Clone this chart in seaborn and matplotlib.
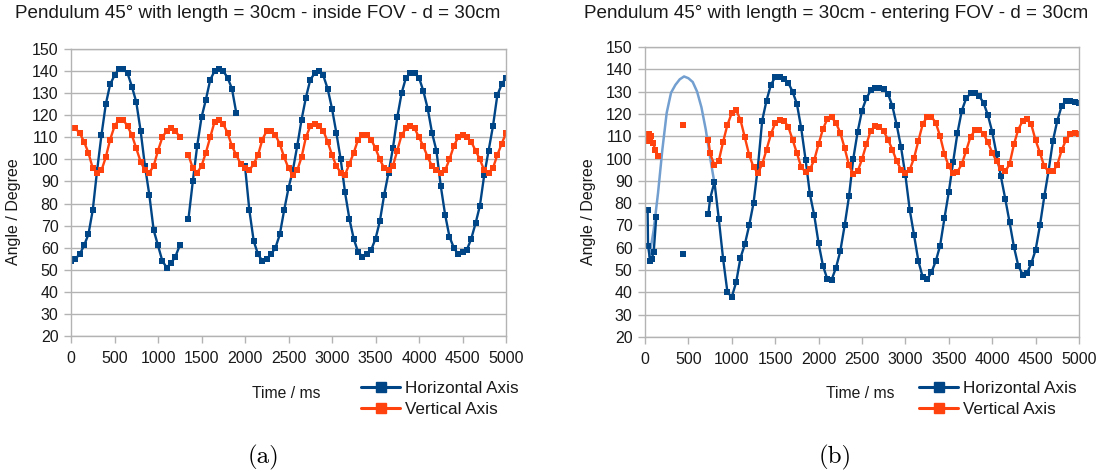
import numpy as np
import pandas as pd
import matplotlib
matplotlib.use("Agg")
import matplotlib.pyplot as plt
from matplotlib.lines import Line2D
import seaborn as sns

# ---- data (angle in degrees, time in ms) ----
t_a = np.arange(0, 5001, 50)
horiz_a = [54, 55, 57, 61, 66, 77, 95, 111, 125, 134,
           138, 141, 141, 139, 133, 126, 113, 97, 84, 68,
           61, 54, 51, 53, 56, 61, np.nan, 73, 90, 106,
           119, 127, 136, 140, 141, 140, 137, 132, 121, np.nan,
           97, 77, 63, 57, 54, 55, 57, 60, 66, 77,
           87, 95, 106, 118, 128, 136, 139, 140, 138, 132,
           123, 112, 100, 85, 73, 64, 58, 56, 57, 59,
           64, 72, 84, 94, 105, 119, 130, 137, 139, 139,
           137, 131, 123, 112, 104, 88, 75, 65, 60, 57,
           58, 59, 64, 71, 79, 93, 104, 115, 129, 134,
           137]
vert_a = [114, 114, 112, 108, 103, 96, 94, 95, 101, 109,
          115, 118, 118, 115, 111, 105, 99, 95, 94, 97,
          104, 110, 113, 114, 113, 110, np.nan, 102, 96, 94,
          97, 103, 110, 117, 118, 116, 112, 106, 102, 98,
          96, 95, 98, 102, 109, 113, 113, 111, 107, 101,
          96, 93, 95, 101, 110, 115, 116, 115, 113, 108,
          102, 97, 94, 93, 98, 103, 109, 111, 111, 109,
          105, 100, 96, 95, 97, 104, 111, 114, 115, 114,
          110, 106, 101, 97, 95, 94, 95, 100, 106, 110,
          111, 110, 108, 104, 100, 95, 94, 96, 102, 107,
          112]

t_b = np.r_[730, np.arange(750, 5001, 50)]
horiz_b = [75,
           82, 89.5, 73, 55, 40, 38, 44.5, 55.5, 61.5, 70,
           80, 96, 117, 126, 133, 136.5, 136.5, 135.8, 134, 130,
           124.5, 113.5, 99.5, 84, 74.5, 62, 52, 46, 45.7, 51,
           58.5, 70, 83, 100, 112, 121.5, 127, 130.5, 131.6, 131.4,
           131, 129, 123.5, 115, 105, 92.5, 77, 65.6, 54, 46.7,
           45.8, 49, 54, 61, 73.3, 85, 98.5, 111.5, 121.5, 127,
           129.2, 129.2, 128, 125, 119.5, 112, 102, 92, 82, 71.5,
           60.5, 52, 48, 48.5, 53, 59, 70, 83, 94.6, 108,
           117, 123.5, 126, 126, 125.4, 125]
vert_b = [108.4,
          102.3, 97, 99, 107.5, 115.2, 120.4, 121.7, 117.3, 109.5, 101.6,
          96.2, 93.6, 97.4, 104, 110.8, 116, 117.4, 117, 114.3, 108.5,
          102.4, 96.1, 94, 95.1, 99.4, 106.5, 113.2, 117.7, 118.5, 116,
          111.5, 104.7, 97, 93, 94.2, 99.7, 106.3, 112.5, 114.5, 114.3,
          112.2, 108.5, 104, 98.8, 95, 93.6, 95, 100.3, 108, 115.5,
          118.7, 118.8, 116, 110, 102, 96.5, 93.4, 94.1, 97.5, 103.5,
          109.7, 112.6, 113, 111.2, 107.2, 102.7, 98.7, 95.6, 94.2, 97.5,
          106.3, 113, 116.8, 117.5, 115.3, 108.2, 102.6, 96.5, 94.2, 94.2,
          97.2, 103.7, 108.3, 111, 111.4, 110.8]

# scattered samples at the start of (b)
t_hb_start = [30, 35, 60, 75, 100, 130]
horiz_b_start = [77, 61, 54, 55, 58, 74]
t_vb_start = [20, 30, 50, 70, 90, 120, 150]
vert_b_start = [111, 108, 111, 110, 107, 104, 101]
t_lone = [440]
horiz_b_lone = [57]
vert_b_lone = [115]

# light blue curve bridging the missing horizontal samples in (b)
t_bridge = [50, 100, 150, 200, 250, 300, 350, 400, 450, 500, 550, 600, 650, 700, 750, 800]
horiz_bridge = [56, 68, 84.5, 104, 120.5, 129.5, 133, 135.5, 136.8, 136, 134.3, 130, 123, 113, 100.5, 89]

titles = ["Pendulum 45° with length = 30cm - inside FOV - d = 30cm",
          "Pendulum 45° with length = 30cm - entering FOV - d = 30cm"]
captions = ["(a)", "(b)"]
series_names = ["Horizontal Axis", "Vertical Axis"]

BLUE = "#004586"
ORANGE = "#ff420e"
LIGHT = "#729fcf"
GRID = "#b3b3b3"
TXT = "#1a1a1a"

sns.set_style("white")
plt.rcParams["font.family"] = ["Liberation Sans", "DejaVu Sans"]


def draw(ax, t, v, color):
    df = pd.DataFrame({"t": t, "v": v})
    df["seg"] = df["v"].isna().cumsum()
    df = df.dropna()
    sns.lineplot(data=df, x="t", y="v", units="seg", estimator=None, sort=False,
                 color=color, lw=1.7, marker="s", markersize=3.8, markeredgewidth=0,
                 ax=ax, legend=False)


def lone(ax, t, v, color):
    sns.scatterplot(x=t, y=v, marker="s", s=16, color=color, linewidth=0, ax=ax, legend=False)


fig = plt.figure(figsize=(10.99, 4.71), dpi=100)
ax_a = fig.add_axes([71 / 1099, 1 - 336 / 471, 435 / 1099, 287 / 471])
ax_b = fig.add_axes([645 / 1099, 1 - 337 / 471, 434 / 1099, 290 / 471])

draw(ax_a, t_a, horiz_a, BLUE)
draw(ax_a, t_a, vert_a, ORANGE)

sns.lineplot(x=t_bridge, y=horiz_bridge, color=LIGHT, lw=1.8, ax=ax_b)
draw(ax_b, t_hb_start, horiz_b_start, BLUE)
draw(ax_b, t_vb_start, vert_b_start, ORANGE)
lone(ax_b, t_lone, horiz_b_lone, BLUE)
lone(ax_b, t_lone, vert_b_lone, ORANGE)
draw(ax_b, t_b, horiz_b, BLUE)
draw(ax_b, t_b, vert_b, ORANGE)

handles = [Line2D([], [], color=BLUE, lw=2.2, marker="s", markersize=7.5),
           Line2D([], [], color=ORANGE, lw=2.2, marker="s", markersize=7.5)]

panel_x = [(71, 258, 14, 286, 361, 264), (645, 836, 588, 860, 919, 835)]
for ax, title, cap, (x0, tx, yl, xl, lx, cx) in zip([ax_a, ax_b], titles, captions, panel_x):
    ax.set_xlim(0, 5000)
    ax.set_ylim(20, 150)
    ax.set_xticks(range(0, 5001, 500))
    ax.set_yticks(range(20, 151, 10))
    ax.set_xlabel("")
    ax.set_ylabel("")
    ax.yaxis.grid(True, color=GRID, lw=1)
    ax.xaxis.grid(False)
    ax.set_axisbelow(True)
    for s in ax.spines.values():
        s.set_color(GRID)
        s.set_linewidth(1)
    ax.tick_params(axis="both", length=5, width=1, color=GRID, labelsize=11.5,
                   labelcolor=TXT, direction="out")
    ax.tick_params(axis="x", pad=6)
    ax.tick_params(axis="y", pad=4)
    ax.tick_params(left=True, bottom=True)

    fig.text(tx / 1099, 1 - 14 / 471, title, ha="center", va="center", fontsize=13.6, color=TXT)
    fig.text(yl / 1099, 1 - 212 / 471, "Angle / Degree", rotation=90, ha="center",
             va="center", fontsize=11.5, color=TXT)
    fig.text(xl / 1099, 1 - 394 / 471, "Time / ms", ha="center", va="center",
             fontsize=11.3, color=TXT)
    ax.legend(handles, series_names, loc="upper left", bbox_to_anchor=(lx / 1099, 1 - 381 / 471),
              bbox_transform=fig.transFigure, frameon=False, fontsize=12.3, handlelength=2.3,
              handletextpad=0.3, labelspacing=0.35, borderpad=0, borderaxespad=0,
              labelcolor=TXT)
    fig.text(cx / 1099, 1 - 457 / 471, cap, ha="center", va="center", fontsize=18,
             family="cmr10", color="black")

fig.savefig("out.png", dpi=100)
